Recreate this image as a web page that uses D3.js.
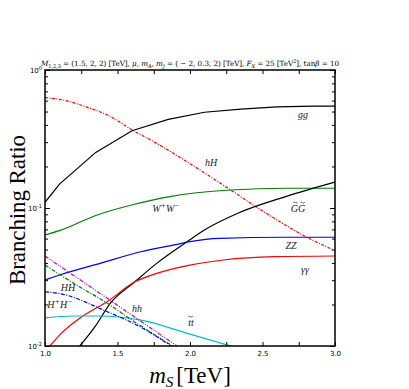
<!DOCTYPE html>
<html><head><meta charset="utf-8">
<script src="https://cdn.jsdelivr.net/npm/d3@7"></script>
<style>body{margin:0;background:#fff}svg{display:block}</style>
</head><body>
<svg id="c" width="409" height="389"></svg>
<script>
// ---- data (m_S in TeV, branching ratios) ----
const gg_m = [1.0, 1.1, 1.35, 1.6, 1.85, 2.1, 2.35, 2.6, 2.85, 3.0];
const gg_v = [0.110, 0.149, 0.253, 0.363, 0.439, 0.494, 0.520, 0.540, 0.547, 0.548];
const hH_m = [1.0, 1.1, 1.31, 1.43, 1.61, 1.77, 1.95, 2.29, 2.49, 2.82, 2.99];
const hH_v = [0.630, 0.613, 0.528, 0.472, 0.363, 0.294, 0.226, 0.133, 0.0967, 0.0603, 0.0497];
const WW_m = [1.0, 1.1, 1.36, 1.61, 1.86, 2.28, 2.66, 3.0];
const WW_v = [0.0637, 0.0685, 0.089, 0.106, 0.121, 0.135, 0.139, 0.139];
const GG_m = [1.24, 1.345, 1.45, 1.62, 1.77, 1.98, 2.10, 2.33, 2.66, 3.0];
const GG_v = [0.010, 0.0138, 0.0204, 0.0292, 0.0397, 0.057, 0.0693, 0.0916, 0.121, 0.154];
const ZZ_m = [1.0, 1.1, 1.38, 1.66, 1.89, 2.0, 2.2, 2.66, 3.0];
const ZZ_v = [0.0301, 0.0327, 0.0397, 0.0482, 0.054, 0.057, 0.0603, 0.0614, 0.0614];
const aa_m = [1.034, 1.1, 1.24, 1.43, 1.62, 1.77, 2.0, 2.23, 2.58, 3.0];
const aa_v = [0.010, 0.012, 0.0159, 0.021, 0.0292, 0.0336, 0.0386, 0.042, 0.0444, 0.0449];
const tt_m = [1.0, 1.2, 1.38, 1.66, 2.0, 2.28];
const tt_v = [0.0160, 0.0165, 0.0165, 0.0154, 0.0122, 0.010];
const HH_m = [1.0, 1.2, 1.43, 1.6, 1.88];
const HH_v = [0.0386, 0.0284, 0.0204, 0.0154, 0.010];
const hh_m = [1.0, 1.45, 1.91];
const hh_v = [0.0449, 0.0214, 0.010];
const Hc_m = [1.0, 1.1, 1.43, 1.66, 1.87];
const Hc_v = [0.0247, 0.024, 0.0177, 0.0137, 0.010];
const xTicks = [1.0, 1.5, 2.0, 2.5, 3.0];
const xMinorTicks = [1.25, 1.75, 2.25, 2.75];
const yDecades = [0.01, 0.1, 1];

const svg = d3.select("#c");
const L = 45, R = 335, T = 70, B = 346;
const x = d3.scaleLinear().domain([1, 3]).range([L, R]);
const y = d3.scaleLog().domain([0.01, 1]).range([B, T]);

const defs = svg.append("defs");
defs.append("clipPath").attr("id", "clip").append("rect")
  .attr("x", L).attr("y", T).attr("width", R - L).attr("height", B - T);

const series = [
  {m: gg_m, v: gg_v, c: "#000000", d: null, lin: true},
  {m: hH_m, v: hH_v, c: "#ff0000", d: "3,1.5,1,1.5"},
  {m: WW_m, v: WW_v, c: "#008000", d: null},
  {m: GG_m, v: GG_v, c: "#000000", d: null},
  {m: ZZ_m, v: ZZ_v, c: "#0000ff", d: null},
  {m: aa_m, v: aa_v, c: "#ff0000", d: null},
  {m: tt_m, v: tt_v, c: "#00bfbf", d: null},
  {m: HH_m, v: HH_v, c: "#008000", d: "4,1.5,1,1.5"},
  {m: hh_m, v: hh_v, c: "#bf00bf", d: "4,1.5,1,1.5,1,1.5"},
  {m: Hc_m, v: Hc_v, c: "#0000ff", d: "4,1.5,1,1.5"}
];
const lineS = d3.line().x(d => x(d[0])).y(d => y(d[1])).curve(d3.curveMonotoneX);
const lineL = d3.line().x(d => x(d[0])).y(d => y(d[1]));
const g = svg.append("g").attr("clip-path", "url(#clip)");
series.forEach(s => {
  g.append("path").datum(s.m.map((m, i) => [m, s.v[i]]))
    .attr("d", s.lin ? lineL : lineS).attr("fill", "none").attr("stroke", s.c)
    .attr("stroke-width", 1.2).attr("stroke-dasharray", s.d);
});

// axes (inward ticks on all sides)
const fmtNone = () => "";
const xb = d3.axisBottom(x).tickValues(xTicks).tickSizeInner(-4).tickSizeOuter(0).tickFormat(d3.format(".1f"));
const xbm = d3.axisBottom(x).tickValues(xMinorTicks).tickSizeInner(-4).tickSizeOuter(0).tickFormat(fmtNone);
const xt = d3.axisTop(x).tickValues(xTicks.concat(xMinorTicks)).tickSizeInner(-4).tickSizeOuter(0).tickFormat(fmtNone);
const minors = [];
[0.01, 0.1].forEach(dec => { for (let k = 2; k <= 9; k++) minors.push(dec * k); });
const yl = d3.axisLeft(y).tickValues(yDecades).tickSizeInner(-5).tickSizeOuter(0).tickFormat(fmtNone);
const ylm = d3.axisLeft(y).tickValues(minors).tickSizeInner(-3).tickSizeOuter(0).tickFormat(fmtNone);
const yr = d3.axisRight(y).tickValues(yDecades).tickSizeInner(-5).tickSizeOuter(0).tickFormat(fmtNone);
const yrm = d3.axisRight(y).tickValues(minors).tickSizeInner(-3).tickSizeOuter(0).tickFormat(fmtNone);

function style(sel) {
  sel.select(".domain").remove();
  sel.selectAll("line").attr("stroke", "#000").attr("stroke-width", 1);
  sel.selectAll("text").attr("font-family", "DejaVu Sans").attr("font-size", 7).attr("fill", "#000");
}
svg.append("g").attr("transform", `translate(0,${B})`).call(xb).call(style)
  .selectAll("text").attr("dy", "0").attr("y", 10);
svg.append("g").attr("transform", `translate(0,${B})`).call(xbm).call(style);
svg.append("g").attr("transform", `translate(0,${T})`).call(xt).call(style);
svg.append("g").attr("transform", `translate(${L},0)`).call(yl).call(style);
svg.append("g").attr("transform", `translate(${L},0)`).call(ylm).call(style);
svg.append("g").attr("transform", `translate(${R},0)`).call(yr).call(style);
svg.append("g").attr("transform", `translate(${R},0)`).call(yrm).call(style);

svg.append("rect").attr("x", L).attr("y", T).attr("width", R - L).attr("height", B - T)
  .attr("fill", "none").attr("stroke", "#000").attr("stroke-width", 1.5);

// y tick labels 10^n
const yLabs = [["0", 1], ["-1", 0.1], ["-2", 0.01]];
yLabs.forEach(([e, v]) => {
  const t = svg.append("text").attr("x", L - 3).attr("y", y(v) + 2.5)
    .attr("text-anchor", "end").attr("font-family", "DejaVu Sans").attr("font-size", 7);
  t.append("tspan").text("10");
  t.append("tspan").attr("dy", -3).attr("font-size", 5).text(e);
});

// title
const serif = "DejaVu Serif";
const title = svg.append("text").attr("x", 190).attr("y", 66).attr("text-anchor", "middle")
  .attr("font-family", serif).attr("font-size", 7.2).attr("textLength", 298).attr("lengthAdjust", "spacing");
title.append("tspan").attr("font-style", "italic").text("M");
title.append("tspan").attr("font-size", 5).attr("dy", 1.5).text("1,2,3");
title.append("tspan").attr("dy", -1.5).text(" = (1.5, 2, 2) [TeV], ");
title.append("tspan").attr("font-style", "italic").text("μ, m");
title.append("tspan").attr("font-size", 5).attr("dy", 1.5).attr("font-style", "italic").text("A");
title.append("tspan").attr("dy", -1.5).attr("font-style", "italic").text(", m");
title.append("tspan").attr("font-size", 5).attr("dy", 1.5).attr("font-style", "italic").text("J");
title.append("tspan").attr("dy", -1.5).text(" = ( − 2, 0.3, 2) [TeV], ");
title.append("tspan").attr("font-style", "italic").text("F");
title.append("tspan").attr("font-size", 5).attr("dy", 1.5).attr("font-style", "italic").text("X");
title.append("tspan").attr("dy", -1.5).text(" = 25 [TeV");
title.append("tspan").attr("font-size", 5).attr("dy", -3).text("2");
title.append("tspan").attr("dy", 3).text("], tan");
title.append("tspan").attr("font-style", "italic").text("β");
title.append("tspan").text(" = 10");

// axis titles
const serif2 = "Liberation Serif";
svg.append("text").attr("transform", "translate(25,210) rotate(-90)").attr("text-anchor", "middle")
  .attr("font-family", serif2).attr("font-size", 23).attr("textLength", 150).attr("lengthAdjust", "spacing")
  .text("Branching Ratio");
const xl = svg.append("text").attr("x", 190).attr("y", 383).attr("text-anchor", "middle")
  .attr("font-family", serif2).attr("font-size", 23);
xl.append("tspan").attr("font-style", "italic").text("m");
xl.append("tspan").attr("font-style", "italic").attr("font-size", 15).attr("dy", 4).text("S");
xl.append("tspan").attr("dy", -4).attr("dx", 3).text("[TeV]");

// curve labels
const labs = [
  {t: [["gg"]], x: 303, y: 118},
  {t: [["hH"]], x: 211, y: 166},
  {t: [["W"], ["+", "sup"], ["W"], ["−", "sup"]], x: 166, y: 212},
  {t: [["G", "tilde"], ["G", "tilde"]], x: 298, y: 212},
  {t: [["ZZ"]], x: 291, y: 249},
  {t: [["γγ"]], x: 305, y: 273},
  {t: [["HH"]], x: 68, y: 291},
  {t: [["H"], ["+", "sup"], ["H"], ["−", "sup"]], x: 60, y: 308},
  {t: [["hh"]], x: 137, y: 312},
  {t: [["t", "tilde"], ["t"]], x: 191, y: 326}
];
labs.forEach(l => {
  const t = svg.append("text").attr("x", l.x).attr("y", l.y).attr("text-anchor", "middle")
    .attr("font-family", serif2).attr("font-style", "italic").attr("font-size", 10)
    .attr("fill", "#222");
  let sup = false;
  l.t.forEach(([s, k]) => {
    const ts = t.append("tspan").text(s);
    if (k === "sup") { ts.attr("font-size", 8).attr("dy", sup ? 0 : -4); sup = true; }
    else if (sup) { ts.attr("dy", 4); sup = false; }
  });
  // tildes (drawn as small paths) over marked glyphs
  const node = t.node();
  let idx = 0;
  l.t.forEach(([s, k]) => {
    if (k === "tilde") {
      const ext = node.getExtentOfChar(idx);
      const cx = ext.x + ext.width / 2 + 1, cy = l.y - 9.5;
      svg.append("path")
        .attr("d", `M${cx - 2.2},${cy + 0.6} C${cx - 1.2},${cy - 1.2} ${cx - 0.2},${cy + 0.2} ${cx},${cy + 0.2} S${cx + 1.2},${cy + 1.4} ${cx + 2.2},${cy - 0.6}`)
        .attr("fill", "none").attr("stroke", "#222").attr("stroke-width", 0.7);
    }
    idx += s.length;
  });
});
</script>
</body></html>
